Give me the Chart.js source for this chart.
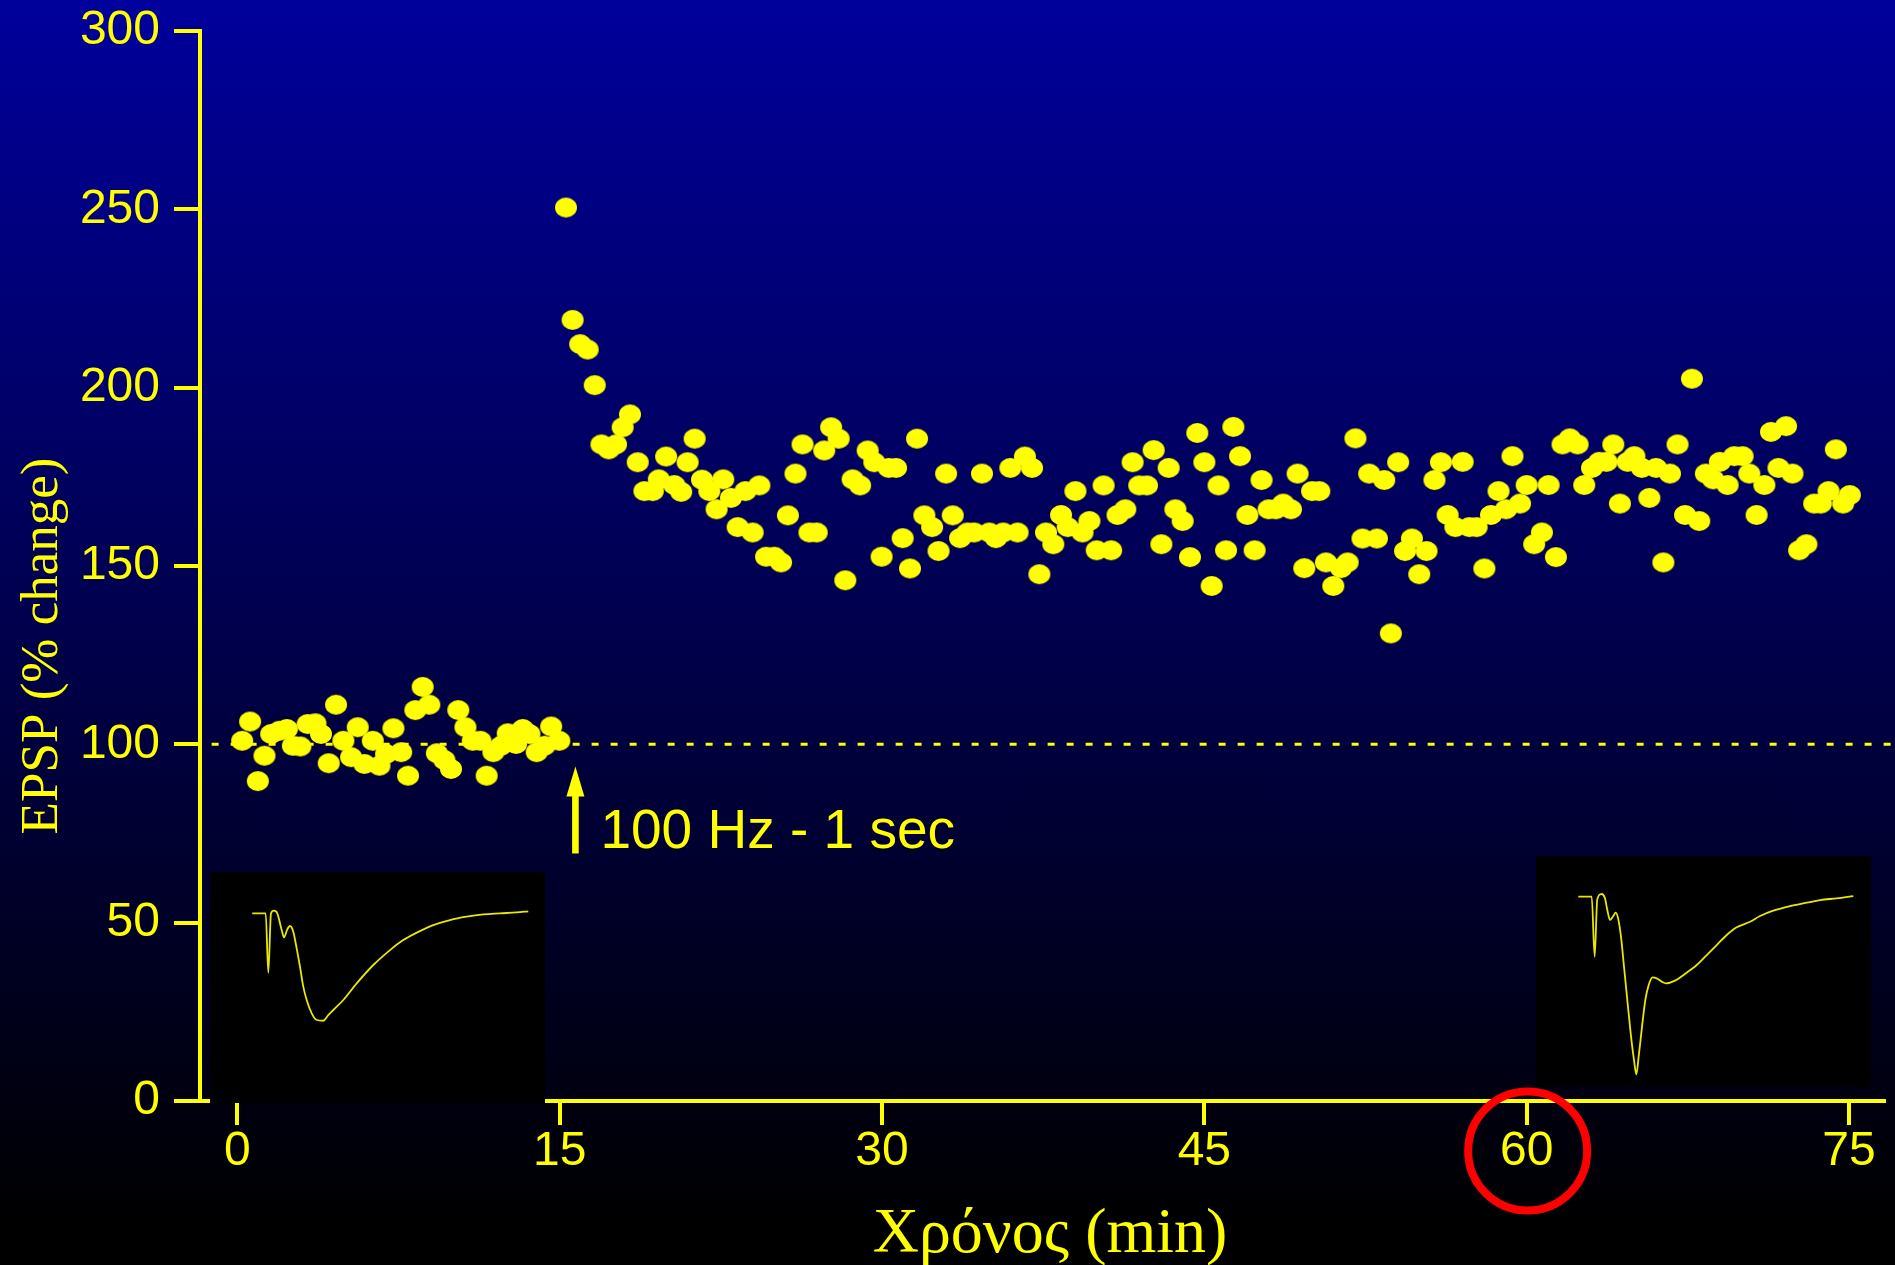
<!DOCTYPE html>
<html><head><meta charset="utf-8">
<script src="https://cdn.jsdelivr.net/npm/chart.js@4"></script>
<style>
html,body{margin:0;padding:0;width:1895px;height:1265px;overflow:hidden;}
body{background:linear-gradient(180deg,#00009c 0px,#000000 1230px);position:relative;}
#main{position:absolute;left:0;top:0;}
.inset{position:absolute;background:#000;}
.inset canvas{display:block;}
</style></head><body>
<canvas id="main" width="1895" height="1265"></canvas>
<div class="inset" style="left:210px;top:872px;width:335px;height:231px"><canvas id="tr1" width="335" height="231"></canvas></div>
<div class="inset" style="left:1536px;top:856px;width:335px;height:231px"><canvas id="tr2" width="335" height="231"></canvas></div>
<script>
// ---- data ----
const xTicks = [0, 15, 30, 45, 60, 75];
const yTicks = [0, 50, 100, 150, 200, 250, 300];

const baseTime = [0.22,0.59,0.95,1.26,1.57,1.95,2.30,2.58,2.93,3.27,3.63,3.89,4.25,4.59,4.93,5.29,5.60,5.91,6.30,6.61,6.92,7.26,7.62,7.94,8.28,8.62,8.93,9.28,9.63,9.94,10.28,10.61,10.95,11.31,11.60,11.91,12.27,12.58,12.97,13.28,13.59,13.93,14.29,14.60,14.98];
const baseEPSP = [101.0,106.4,89.7,96.8,102.9,103.8,104.3,99.6,99.4,105.7,105.9,102.9,94.7,111.1,101.0,96.4,104.8,94.5,101.0,94.0,97.3,104.5,97.8,91.2,109.6,116.1,111.1,97.5,95.6,93.1,109.6,104.8,101.0,101.0,91.2,97.8,99.6,103.1,100.1,104.3,102.9,97.8,99.6,105.0,101.0];

const postTime = [15.29,15.60,15.95,16.30,16.63,16.94,17.28,17.62,17.93,18.27,18.63,18.94,19.33,19.61,19.95,20.33,20.65,20.95,21.28,21.62,21.96,22.30,22.61,22.97,23.28,23.64,23.98,24.29,24.60,24.99,25.30,25.62,25.97,26.30,26.62,26.96,27.31,27.63,27.98,28.29,28.63,28.98,29.33,29.64,29.98,30.31,30.65,30.96,31.30,31.63,31.97,32.33,32.63,32.98,33.29,33.63,33.98,34.29,34.65,34.99,35.30,35.64,35.97,36.31,36.65,36.98,37.32,
37.63,37.97,38.33,38.64,39.00,39.33,39.65,39.99,40.31,40.66,40.96,41.32,41.66,41.97,42.33,42.64,43.00,43.34,43.65,43.99,44.33,44.67,45.00,45.34,45.66,46.01,46.35,46.66,47.00,47.34,47.66,47.99,48.33,48.67,49.03,49.34,49.65,50.01,50.35,50.66,51.00,51.36,51.67,52.03,52.36,52.67,53.03,53.37,53.68,54.02,54.34,54.66,55.00,55.34,55.71,56.01,56.32,
56.68,57.02,57.33,57.67,58.03,58.34,58.69,59.04,59.34,59.69,60.00,60.35,60.71,61.02,61.36,61.67,62.01,62.37,62.68,63.04,63.38,63.72,64.03,64.34,64.70,65.01,65.36,65.71,66.02,66.36,66.67,67.02,67.37,67.69,68.03,68.34,68.68,68.99,69.35,69.66,70.05,70.36,70.70,71.06,71.37,71.72,72.07,72.37,72.68,73.02,73.38,73.69,74.05,74.39,74.73,75.04];
const postEPSP = [250.5,219.0,212.2,210.7,200.7,184.1,182.7,184.1,188.9,192.5,179.1,171.0,171.0,174.3,180.7,172.7,170.8,179.1,185.7,174.2,171.0,165.9,174.3,169.1,160.9,171.0,159.4,172.6,152.6,152.6,151.0,164.2,175.9,184.1,159.4,159.4,182.4,188.9,185.7,146.0,174.3,172.6,182.4,179.1,152.6,177.5,177.5,157.8,149.3,185.7,164.2,160.9,154.2,175.9,164.2,157.8,159.4,159.4,175.9,159.4,157.8,159.4,177.5,159.4,180.7,177.5,147.7,
159.4,156.1,164.3,160.9,171.0,159.4,162.6,154.4,172.6,154.4,164.3,165.9,179.1,172.6,172.6,182.5,156.1,177.5,165.9,162.6,152.5,187.3,179.1,144.4,172.6,154.4,189.0,180.8,164.3,154.4,174.1,165.9,165.9,167.5,165.9,175.9,149.4,171.0,171.0,151.0,144.4,149.4,151.0,185.8,157.7,175.9,157.7,174.1,131.1,179.1,154.2,157.7,147.7,154.2,174.1,179.1,164.3,
160.9,179.2,160.9,160.9,149.3,164.3,171.0,165.9,180.8,167.5,172.7,156.1,159.4,172.7,152.5,184.1,185.8,184.1,172.7,177.5,179.2,179.2,184.1,167.5,179.2,180.8,177.5,169.1,177.5,151.0,175.9,184.1,164.3,202.5,162.6,175.9,174.3,179.2,172.7,180.8,180.8,175.9,164.3,172.7,187.6,177.5,189.2,175.9,154.4,156.1,167.5,167.5,171.0,182.7,167.5,169.9];

const refLevel = 100;            // dotted baseline (% of control)
const refLineSpan = [-1.2, 77.1]; // minutes
const stimTime = 15.73;          // tetanus arrow position (min)
const stimArrow = [69.4, 93.8];  // arrow from / to (% change)
const stimLabel = '100 Hz - 1 sec';
const markedTick = 60;
const xTitle = 'Χρόνος (min)';
const yTitle = 'EPSP (% change)';

// inset traces: time (ms), voltage (mV)
const traceTimeBefore = [0,1.94,2.32,2.71,3.14,3.62,4.26,4.59,5.07,5.46,5.94,6.43,6.91,7.39,7.88,8.61,9.33,10.29,11.01,11.74,13.19,15.13,17.54,19.96,21.88,23.83,26.23,28.65,31.07,33.48,35.90,38.32,40.0];
const traceVBefore = [0,0,-0.553,0,0.025,0,-0.155,-0.224,-0.149,-0.118,-0.171,-0.326,-0.497,-0.683,-0.807,-0.931,-0.993,-1.0,-0.947,-0.900,-0.807,-0.652,-0.481,-0.342,-0.249,-0.180,-0.109,-0.062,-0.031,-0.010,0,0.009,0.019];
const traceTimeAfter = [0,1.95,2.38,2.76,3.40,3.88,4.22,4.61,5.09,5.44,5.82,6.21,6.65,7.13,7.62,8.10,8.44,8.78,9.27,9.75,10.24,10.82,11.40,12.13,12.76,14.07,15.76,17.22,18.68,20.13,21.59,23.04,24.98,26.43,28.36,30.79,33.22,35.16,37.58,40.0];
const traceVAfter = [0,0,-0.559,-0.025,0.025,-0.015,-0.124,-0.217,-0.180,-0.149,-0.211,-0.372,-0.652,-0.962,-1.272,-1.520,-1.654,-1.490,-1.210,-0.962,-0.822,-0.751,-0.760,-0.791,-0.807,-0.782,-0.708,-0.636,-0.543,-0.450,-0.357,-0.285,-0.233,-0.180,-0.130,-0.087,-0.056,-0.031,-0.015,0.006];

// ---- styles ----
const YEL = '#ffff00';
const SANS = '"Liberation Sans", Arial, sans-serif';
const SERIF = '"Liberation Serif", "Times New Roman", serif';

const dot = document.createElement('canvas');
dot.width = 24; dot.height = 22;
(function(){const g = dot.getContext('2d'); g.fillStyle = YEL; g.beginPath(); g.ellipse(12, 11, 11, 10, 0, 0, Math.PI*2); g.fill();})();

const points = baseTime.map((t,i)=>({x:t,y:baseEPSP[i]})).concat(postTime.map((t,i)=>({x:t,y:postEPSP[i]})));

const annot = {
  id: 'annot',
  afterDraw(c) {
    const ctx = c.ctx, xs = c.scales.x, ys = c.scales.y;
    ctx.save();
    // arrow
    const ax = xs.getPixelForValue(stimTime);
    const yFrom = ys.getPixelForValue(stimArrow[0]);
    const yTo = ys.getPixelForValue(stimArrow[1]);
    ctx.fillStyle = YEL;
    ctx.fillRect(ax - 3.3, yTo + 27, 6.6, yFrom - yTo - 27);
    ctx.beginPath();
    ctx.moveTo(ax, yTo); ctx.lineTo(ax + 9, yTo + 30); ctx.lineTo(ax - 9, yTo + 30); ctx.closePath(); ctx.fill();
    ctx.font = '55px ' + SANS;
    ctx.textAlign = 'left'; ctx.textBaseline = 'alphabetic';
    ctx.fillText(stimLabel, ax + 25, yFrom - 5);
    // titles
    ctx.font = '64px ' + SERIF;
    ctx.textAlign = 'center';
    ctx.fillText(xTitle, 1050, 1252);
    ctx.save();
    ctx.translate(0, 646);
    ctx.rotate(-Math.PI/2);
    ctx.font = '53px ' + SERIF;
    ctx.fillText(yTitle, 0, 57);
    ctx.restore();
    // red circle around tick
    ctx.strokeStyle = '#ff0000';
    ctx.lineWidth = 8;
    ctx.beginPath();
    ctx.arc(xs.getPixelForValue(markedTick) + 1, ys.bottom + 50, 59.5, 0, Math.PI*2);
    ctx.stroke();
    ctx.restore();
  }
};

new Chart(document.getElementById('main'), {
  type: 'scatter',
  data: { datasets: [
    { label: 'EPSP', data: points, pointStyle: dot, pointRadius: 11, backgroundColor: YEL, borderWidth: 0, showLine: false },
    { type: 'line', label: 'ref', data: [{x:refLineSpan[0], y:refLevel},{x:refLineSpan[1], y:refLevel}],
      borderColor: YEL, borderWidth: 3, borderDash: [7, 12], pointRadius: 0, fill: false, clip: false }
  ]},
  options: {
    responsive: false, animation: false, devicePixelRatio: 1,
    layout: { padding: { top: 31, right: 7, left: 0, bottom: 0 } },
    plugins: { legend: { display: false }, tooltip: { enabled: false } },
    scales: {
      x: {
        type: 'linear', min: -1.741, max: 76.63,
        afterBuildTicks: s => { s.ticks = xTicks.map(v => ({value: v})); },
        afterFit: s => { s.height = 164; s.paddingLeft = 0; s.paddingRight = 0; },
        grid: { drawOnChartArea: false, drawTicks: true, tickLength: 24, color: YEL, lineWidth: 4 },
        border: { display: true, color: YEL, width: 4 },
        ticks: { color: YEL, font: { family: SANS, size: 48 }, padding: -2, maxRotation: 0, autoSkip: false }
      },
      y: {
        type: 'linear', min: 0, max: 300,
        afterBuildTicks: s => { s.ticks = yTicks.map(v => ({value: v})); },
        afterFit: s => { s.width = 200; s.paddingTop = 0; s.paddingBottom = 0; },
        grid: { drawOnChartArea: false, drawTicks: true, tickLength: 26, color: YEL, lineWidth: 4 },
        border: { display: true, color: YEL, width: 4 },
        ticks: { color: YEL, font: { family: SANS, size: 48 }, padding: 14, autoSkip: false }
      }
    }
  },
  plugins: [annot]
});

function trace(id, tArr, vArr, xr, yr) {
  new Chart(document.getElementById(id), {
    type: 'line',
    data: { datasets: [{ data: tArr.map((t,i)=>({x:t, y:vArr[i]})), borderColor: '#e8e800', borderWidth: 1.8,
      pointRadius: 0, fill: false, cubicInterpolationMode: 'monotone' }] },
    options: {
      responsive: false, animation: false, devicePixelRatio: 1,
      layout: { padding: 0 },
      plugins: { legend: { display: false }, tooltip: { enabled: false } },
      scales: {
        x: { type: 'linear', display: false, min: xr[0], max: xr[1] },
        y: { type: 'linear', display: false, min: yr[0], max: yr[1] }
      }
    }
  });
}
trace('tr1', traceTimeBefore, traceVBefore, [-6.13, 42.42], [-1.766, 0.385]);
trace('tr2', traceTimeAfter, traceVAfter, [-6.15, 42.57], [-1.772, 0.379]);
</script>
</body></html>
